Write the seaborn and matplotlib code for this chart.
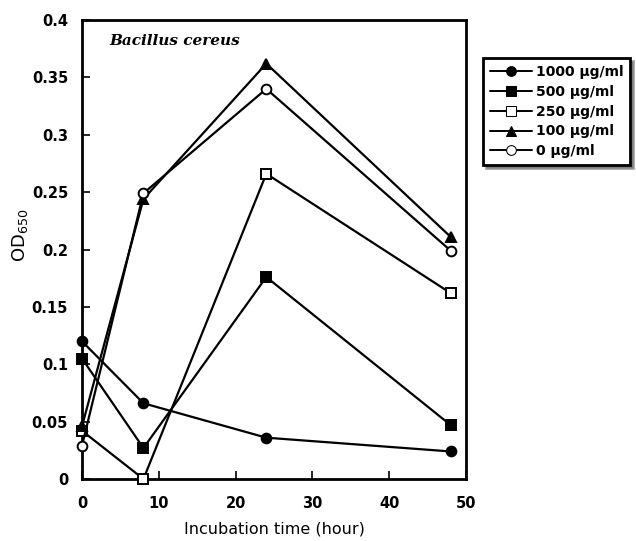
import matplotlib
matplotlib.use("Agg")
import matplotlib.pyplot as plt
import seaborn as sns
import pandas as pd
from matplotlib.ticker import FuncFormatter

hours = [0, 8, 24, 48]
od_1000 = [0.120, 0.066, 0.036, 0.024]
od_500 = [0.105, 0.027, 0.176, 0.047]
od_250 = [0.042, 0.000, 0.266, 0.162]
od_100 = [0.046, 0.244, 0.362, 0.211]
od_0 = [0.029, 0.249, 0.340, 0.199]
series_labels = ["1000 μg/ml", "500 μg/ml", "250 μg/ml", "100 μg/ml", "0 μg/ml"]
series_values = [od_1000, od_500, od_250, od_100, od_0]
x_ticks = [0, 10, 20, 30, 40, 50]
y_ticks = [0, 0.05, 0.1, 0.15, 0.2, 0.25, 0.3, 0.35, 0.4]

rows = []
for lab, vals in zip(series_labels, series_values):
    for h, v in zip(hours, vals):
        rows.append({"hour": h, "od": v, "conc": lab})
df = pd.DataFrame(rows)

sns.set_theme(style="white")
plt.rcParams["font.family"] = ["DejaVu Sans"]
plt.rcParams["text.color"] = "black"
plt.rcParams["axes.labelcolor"] = "black"
plt.rcParams["xtick.color"] = "black"
plt.rcParams["ytick.color"] = "black"

fig = plt.figure(figsize=(6.36, 5.41), dpi=100)
ax = fig.add_axes([82/636, 1-479/541, (466-82)/636, (479-20)/541])

markers = {"1000 μg/ml": "o", "500 μg/ml": "s", "250 μg/ml": "s",
           "100 μg/ml": "^", "0 μg/ml": "o"}
palette = {k: "black" for k in series_labels}
sns.lineplot(data=df, x="hour", y="od", hue="conc", style="conc",
             hue_order=series_labels, style_order=series_labels,
             palette=palette, markers=markers, dashes=False,
             linewidth=1.6, markersize=7, ax=ax, legend=True)

open_series = {"250 μg/ml", "0 μg/ml"}
for line, lab in zip(ax.lines, series_labels):
    line.set_markeredgecolor("black")
    line.set_markeredgewidth(1.4)
    line.set_markerfacecolor("white" if lab in open_series else "black")
    line.set_clip_on(False)
    line.set_zorder(5)

ax.set_xlim(0, 50)
ax.set_ylim(0, 0.4)
ax.set_xticks(x_ticks)
ax.set_yticks(y_ticks)
ax.yaxis.set_major_formatter(FuncFormatter(lambda v, p: ("%g" % v)))
ax.tick_params(direction="in", length=6, width=1.2, labelsize=10.5,
               left=True, bottom=True)
ax.tick_params(axis="x", pad=12)
ax.tick_params(axis="y", pad=10)
for lab in ax.get_xticklabels() + ax.get_yticklabels():
    lab.set_fontweight("bold")
for sp in ax.spines.values():
    sp.set_visible(True)
    sp.set_color("black")
    sp.set_linewidth(2)

ax.set_xlabel("Incubation time (hour)", fontsize=11.5, labelpad=8)
ax.set_ylabel("OD$_{650}$", fontsize=13)
ax.yaxis.set_label_coords(-0.135, 0.53)
ax.text(0.07, 0.97, "Bacillus cereus", transform=ax.transAxes,
        fontsize=11, fontweight="bold", fontstyle="italic",
        family="DejaVu Serif", va="top", ha="left")

handles, labels = ax.get_legend_handles_labels()
for h, lab in zip(handles, labels):
    h.set_color("black")
    h.set_markeredgecolor("black")
    h.set_markerfacecolor("white" if lab in open_series else "black")
    h.set_markersize(7)
    h.set_linewidth(1.4)
leg = fig.legend(handles, labels, loc="upper left",
                 bbox_to_anchor=(483/636, 1-58/541), frameon=True,
                 fancybox=False, shadow=True, fontsize=10,
                 handlelength=3.0, handletextpad=0.3, labelspacing=0.42,
                 borderpad=0.5, borderaxespad=0)
leg.get_frame().set_edgecolor("black")
leg.get_frame().set_linewidth(2)
for t in leg.get_texts():
    t.set_fontweight("bold")
if ax.get_legend() is not None:
    ax.get_legend().remove()

fig.savefig("out.png", dpi=100)
